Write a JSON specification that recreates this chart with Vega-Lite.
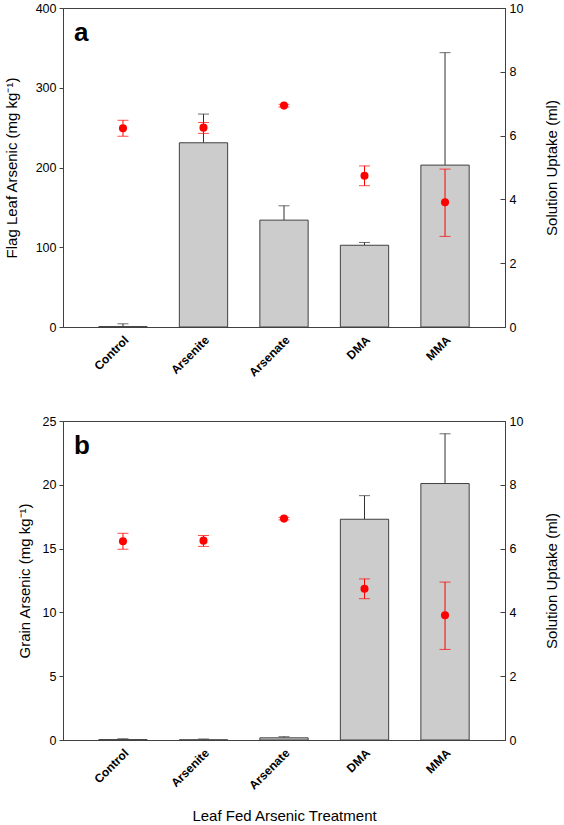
{
  "$schema": "https://vega.github.io/schema/vega-lite/v6.json",
  "padding": {"left": 3, "top": 1, "right": 0, "bottom": 0},
  "config": {
    "font": "Liberation Sans",
    "view": {"stroke": "#404040", "strokeWidth": 1},
    "axis": {"labelFont": "Liberation Sans", "titleFont": "Liberation Sans", "labelFontSize": 12.5, "titleFontSize": 15, "titleFontWeight": "normal", "labelColor": "#000", "titleColor": "#000", "domainColor": "#404040", "tickColor": "#404040", "grid": false},
    "title": {"font": "Liberation Sans", "fontSize": 26, "fontWeight": "bold", "color": "#000", "anchor": "start", "frame": "group"},
    "concat": {"spacing": 35}
  },
  "datasets": {
    "arsenic": [
      {"treatment": "Control", "panel": "a", "conc": 0.5, "conc_hi": 4},
      {"treatment": "Arsenite", "panel": "a", "conc": 231, "conc_hi": 267},
      {"treatment": "Arsenate", "panel": "a", "conc": 134, "conc_hi": 152},
      {"treatment": "DMA", "panel": "a", "conc": 102.5, "conc_hi": 106},
      {"treatment": "MMA", "panel": "a", "conc": 203, "conc_hi": 344},
      {"treatment": "Control", "panel": "b", "conc": 0.03, "conc_hi": 0.1},
      {"treatment": "Arsenite", "panel": "b", "conc": 0.01, "conc_hi": 0.08},
      {"treatment": "Arsenate", "panel": "b", "conc": 0.17, "conc_hi": 0.26},
      {"treatment": "DMA", "panel": "b", "conc": 17.3, "conc_hi": 19.15},
      {"treatment": "MMA", "panel": "b", "conc": 20.1, "conc_hi": 24.0}
    ],
    "uptake": [
      {"treatment": "Control", "uptake": 6.23, "lo": 5.98, "hi": 6.48},
      {"treatment": "Arsenite", "uptake": 6.25, "lo": 6.07, "hi": 6.41},
      {"treatment": "Arsenate", "uptake": 6.94, "lo": 6.9, "hi": 6.98},
      {"treatment": "DMA", "uptake": 4.74, "lo": 4.43, "hi": 5.05},
      {"treatment": "MMA", "uptake": 3.91, "lo": 2.84, "hi": 4.95}
    ]
  },
  "vconcat": [
    {
      "width": 442,
      "height": 319,
      "title": {"text": "a", "dx": 11, "dy": 44, "offset": 0},
      "encoding": {
        "x": {"field": "treatment", "type": "nominal", "sort": ["Control", "Arsenite", "Arsenate", "DMA", "MMA"],
          "scale": {"paddingInner": 0.4, "paddingOuter": 0.445},
          "axis": {"title": null, "labelAngle": -45, "labelFontWeight": "bold", "labelFontSize": 12, "ticks": false, "labelPadding": 7}}
      },
      "layer": [
        {
          "data": {"name": "arsenic"},
          "transform": [{"filter": "datum.panel == 'a'"}],
          "encoding": {
            "y": {"field": "conc", "type": "quantitative", "scale": {"domain": [0, 400], "nice": false},
              "axis": {"title": "Flag Leaf Arsenic (mg kg⁻¹)", "values": [0, 100, 200, 300, 400], "tickSize": 4, "labelPadding": 3, "titlePadding": 16}}
          },
          "layer": [
            {"mark": {"type": "rule", "color": "#303030", "strokeWidth": 1}, "encoding": {"y2": {"field": "conc_hi"}}},
            {"mark": {"type": "tick", "color": "#303030", "size": 11, "thickness": 1}, "encoding": {"y": {"field": "conc_hi", "type": "quantitative"}}},
            {"mark": {"type": "bar", "fill": "#cccccc", "stroke": "#404040", "strokeWidth": 1}}
          ]
        },
        {
          "data": {"name": "uptake"},
          "encoding": {
            "y": {"field": "uptake", "type": "quantitative", "scale": {"domain": [0, 10], "nice": false},
              "axis": {"title": "Solution Uptake (ml)", "orient": "right", "titleAngle": 270, "values": [0, 2, 4, 6, 8, 10], "tickSize": -5, "labelPadding": 9, "titlePadding": 37}}
          },
          "layer": [
            {"mark": {"type": "rule", "color": "#ff0000", "strokeWidth": 1}, "encoding": {"y": {"field": "lo", "type": "quantitative"}, "y2": {"field": "hi"}}},
            {"mark": {"type": "tick", "color": "#ff0000", "size": 11, "thickness": 1}, "encoding": {"y": {"field": "lo", "type": "quantitative"}}},
            {"mark": {"type": "tick", "color": "#ff0000", "size": 11, "thickness": 1}, "encoding": {"y": {"field": "hi", "type": "quantitative"}}},
            {"mark": {"type": "point", "filled": true, "color": "#ff0000", "opacity": 1, "size": 65}}
          ]
        }
      ],
      "resolve": {"scale": {"y": "independent"}}
    },
    {
      "width": 442,
      "height": 319,
      "title": {"text": "b", "dx": 11, "dy": 44, "offset": 0},
      "encoding": {
        "x": {"field": "treatment", "type": "nominal", "sort": ["Control", "Arsenite", "Arsenate", "DMA", "MMA"],
          "scale": {"paddingInner": 0.4, "paddingOuter": 0.445},
          "axis": {"title": "Leaf Fed Arsenic Treatment", "labelAngle": -45, "labelFontWeight": "bold", "labelFontSize": 12, "ticks": false, "labelPadding": 7, "titlePadding": 17}}
      },
      "layer": [
        {
          "data": {"name": "arsenic"},
          "transform": [{"filter": "datum.panel == 'b'"}],
          "encoding": {
            "y": {"field": "conc", "type": "quantitative", "scale": {"domain": [0, 25], "nice": false},
              "axis": {"title": "Grain Arsenic (mg kg⁻¹)", "values": [0, 5, 10, 15, 20, 25], "tickSize": 4, "labelPadding": 3, "titlePadding": 10}}
          },
          "layer": [
            {"mark": {"type": "rule", "color": "#303030", "strokeWidth": 1}, "encoding": {"y2": {"field": "conc_hi"}}},
            {"mark": {"type": "tick", "color": "#303030", "size": 11, "thickness": 1}, "encoding": {"y": {"field": "conc_hi", "type": "quantitative"}}},
            {"mark": {"type": "bar", "fill": "#cccccc", "stroke": "#404040", "strokeWidth": 1}}
          ]
        },
        {
          "data": {"name": "uptake"},
          "encoding": {
            "y": {"field": "uptake", "type": "quantitative", "scale": {"domain": [0, 10], "nice": false},
              "axis": {"title": "Solution Uptake (ml)", "orient": "right", "titleAngle": 270, "values": [0, 2, 4, 6, 8, 10], "tickSize": -5, "labelPadding": 9, "titlePadding": 37}}
          },
          "layer": [
            {"mark": {"type": "rule", "color": "#ff0000", "strokeWidth": 1}, "encoding": {"y": {"field": "lo", "type": "quantitative"}, "y2": {"field": "hi"}}},
            {"mark": {"type": "tick", "color": "#ff0000", "size": 11, "thickness": 1}, "encoding": {"y": {"field": "lo", "type": "quantitative"}}},
            {"mark": {"type": "tick", "color": "#ff0000", "size": 11, "thickness": 1}, "encoding": {"y": {"field": "hi", "type": "quantitative"}}},
            {"mark": {"type": "point", "filled": true, "color": "#ff0000", "opacity": 1, "size": 65}}
          ]
        }
      ],
      "resolve": {"scale": {"y": "independent"}}
    }
  ]
}
